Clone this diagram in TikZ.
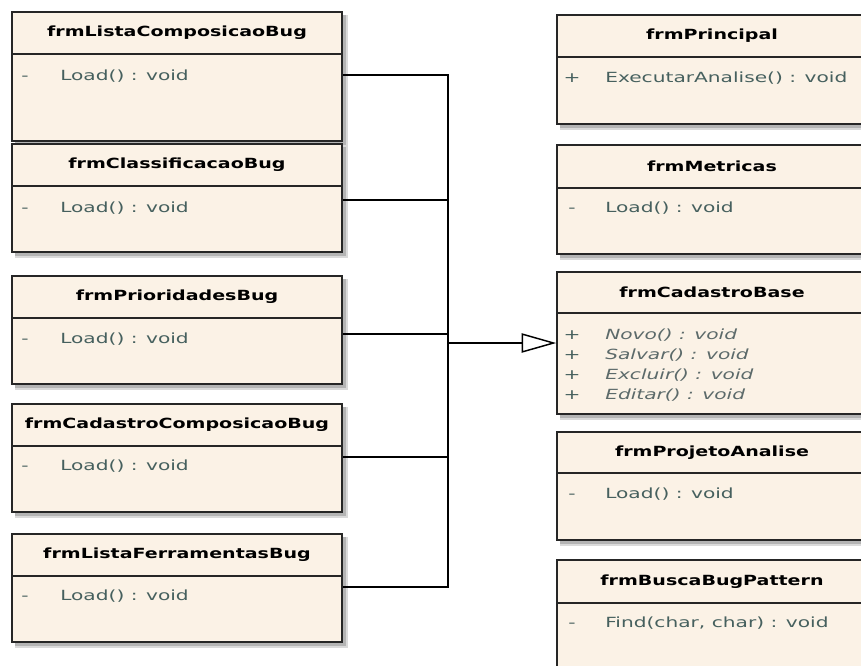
\documentclass[tikz,border=0pt]{standalone}
\usepackage{fontspec}
\setmainfont{DejaVu Sans}
\newfontfamily\titlefont[FakeStretch=1.36]{DejaVu Sans}
\newfontfamily\attrfont[FakeStretch=1.44]{DejaVu Sans}
\usetikzlibrary{arrows.meta,fit}

\definecolor{boxfill}{HTML}{FBF2E6}
\definecolor{boxline}{HTML}{262626}
\definecolor{attrcol}{HTML}{46605E}
\definecolor{abstractcol}{HTML}{5C6A6A}
\definecolor{shadownearcol}{HTML}{B4B4B4}
\definecolor{shadowfarcol}{HTML}{DADADA}

\tikzset{
  classrect/.style={draw=boxline, line width=1.2pt, fill=boxfill, inner sep=0pt},
  classline/.style={draw=boxline, line width=1.2pt},
  shadownear/.style={fill=shadownearcol},
  shadowfar/.style={fill=shadowfarcol},
  titletext/.style={font=\titlefont\bfseries\fontsize{10.5}{12}\selectfont, text=black, inner sep=0pt},
  attrtext/.style={font=\attrfont\fontsize{10.5}{12}\selectfont, text=attrcol, inner sep=0pt, anchor=mid west},
  abstract/.style={font=\attrfont\itshape\fontsize{10.5}{12}\selectfont, text=abstractcol},
  markertext/.style={font=\attrfont\fontsize{10.5}{12}\selectfont, text=attrcol, inner sep=0pt, anchor=mid},
  connector/.style={draw=black, line width=1.1pt},
  generalization/.style={-{Triangle[length=26pt, width=14.5pt, fill=white]}},
}

% class box: name, left, top, right, header line, bottom, title
\newcommand\umlclass[7]{%
  \fill[shadowfar] (#2+3,#3+3) rectangle (#4+6,#6+6);
  \fill[shadownear] (#2+3,#3+3) rectangle (#4+4,#6+4);
  \node[classrect, fit={(#2,#3) (#4,#6)}] (#1) {};
  \draw[classline] (#2,#5) -- (#4,#5);
  \path (#2,#3) -- (#4,#5) node[midway, titletext] (#1title) {#7};
}
% member line: [style], name, marker x, text x, y, marker, text
\newcommand\umlmember[7][]{%
  \node[markertext] (#2m) at (#3,#5) {#6};
  \node[attrtext,#1] (#2) at (#4,#5) {#7};
}

\begin{document}
\begin{tikzpicture}[x={(0.75pt,0)}, y={(0,-0.75pt)}]
\useasboundingbox (0,0) rectangle (861,665);
\clip (0,0) rectangle (861,665);
\fill[white] (0,0) rectangle (861,665);

% forms on the left
\umlclass{L1}{12}{12}{342}{54}{141}{frmListaComposicaoBug}
\umlmember{L1a}{25}{60}{77}{-}{Load() : void}
\umlclass{L2}{12}{144}{342}{186}{252}{frmClassificacaoBug}
\umlmember{L2a}{25}{60}{209}{-}{Load() : void}
\umlclass{L3}{12}{276}{342}{318}{384}{frmPrioridadesBug}
\umlmember{L3a}{25}{60}{340}{-}{Load() : void}
\umlclass{L4}{12}{404}{342}{446}{512}{frmCadastroComposicaoBug}
\umlmember{L4a}{25}{60}{467}{-}{Load() : void}
\umlclass{L5}{12}{534}{342}{576}{642}{frmListaFerramentasBug}
\umlmember{L5a}{25}{60}{597}{-}{Load() : void}

% forms on the right
\umlclass{R1}{557}{15}{867}{57}{124}{frmPrincipal}
\umlmember{R1a}{572}{605}{79}{+}{ExecutarAnalise() : void}
\umlclass{R2}{557}{145}{867}{188}{254}{frmMetricas}
\umlmember{R2a}{572}{605}{209}{-}{Load() : void}
\umlclass{R3}{557}{272}{867}{313}{414}{frmCadastroBase}
\umlmember[abstract]{R3a}{572}{605}{336}{+}{Novo() : void}
\umlmember[abstract]{R3b}{572}{605}{356}{+}{Salvar() : void}
\umlmember[abstract]{R3c}{572}{605}{376}{+}{Excluir() : void}
\umlmember[abstract]{R3d}{572}{605}{396}{+}{Editar() : void}
\umlclass{R4}{557}{432}{867}{473}{540}{frmProjetoAnalise}
\umlmember{R4a}{572}{605}{495}{-}{Load() : void}
\umlclass{R5}{557}{560}{867}{603}{700}{frmBuscaBugPattern}
\umlmember{R5a}{572}{605}{624}{-}{Find(char, char) : void}

% generalization tree
\coordinate (j1) at (448,75);
\coordinate (j2) at (448,200);
\coordinate (j3) at (448,334);
\coordinate (j4) at (448,457);
\coordinate (j5) at (448,587);
\coordinate (bus) at (448,343);
\draw[connector] (L1.east |- j1) -- (j1) -- (j5) -- (L5.east |- j5);
\draw[connector] (L2.east |- j2) -- (j2);
\draw[connector] (L3.east |- j3) -- (j3);
\draw[connector] (L4.east |- j4) -- (j4);
\draw[connector, generalization] (bus) -- (R3.west |- bus);
\end{tikzpicture}
\end{document}
